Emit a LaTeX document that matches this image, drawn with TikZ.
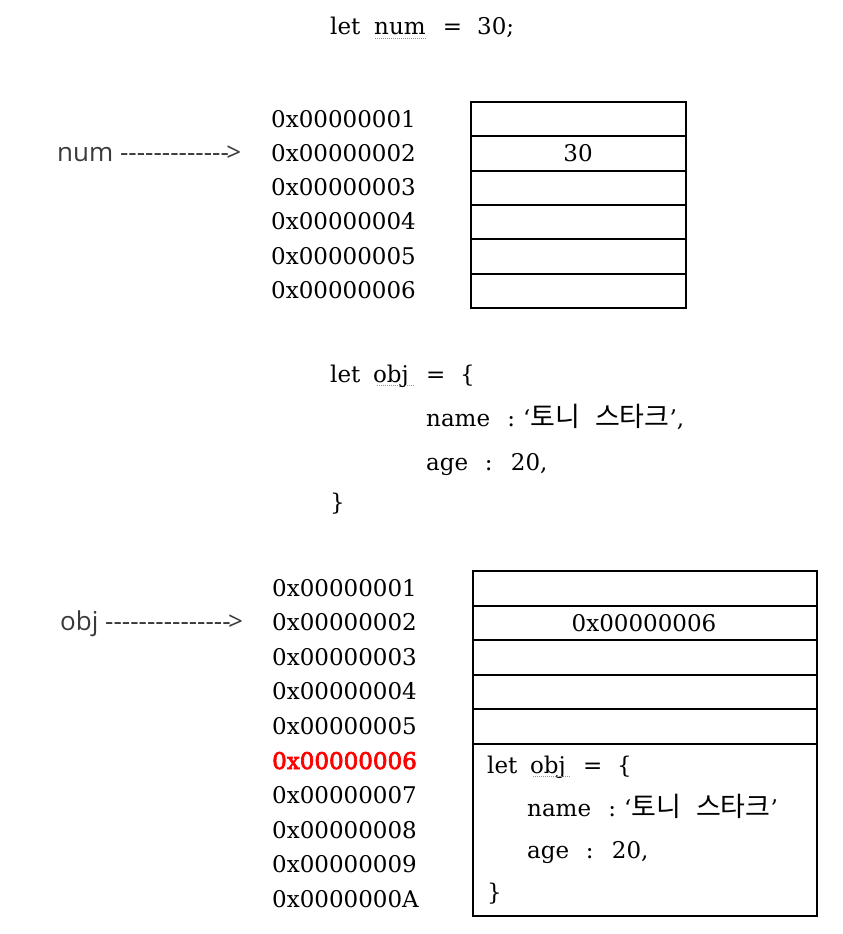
\documentclass[tikz,border=0pt]{standalone}
\usepackage{fontspec}
\setmainfont{DejaVu Serif}
\newfontfamily\kr{Noto Sans CJK KR}
\newfontfamily\lab{Open Sans}
\newfontfamily\redbold[FakeBold=3]{DejaVu Serif}
\definecolor{labgray}{HTML}{3A3A3A}
\definecolor{addrred}{HTML}{FF0000}
\definecolor{squig}{HTML}{F08010}
\begin{document}
\begin{tikzpicture}[x=1pt,y=-1pt,
  txt/.style={anchor=base west, inner sep=0pt, font=\fontsize{23}{28}\selectfont},
  ctxt/.style={anchor=base, inner sep=0pt, font=\fontsize{23}{28}\selectfont},
  lbl/.style={anchor=base west, inner sep=0pt, font=\lab\fontsize{26}{30}\selectfont, text=labgray},
  cellA/.style={draw, line width=1.9pt, minimum width=215pt, minimum height=34.33pt, inner sep=0pt, anchor=north west},
  cellB/.style={draw, line width=1.9pt, minimum width=344pt, minimum height=34.6pt, inner sep=0pt, anchor=north west},
  squiggle/.style={draw=squig, line width=1.2pt, dash pattern=on 1pt off 1pt}
]
\useasboundingbox (0,0) rectangle (843,934);
\newcommand{\K}[1]{{\kr\fontsize{27}{30}\selectfont #1}}

% top code
\node[txt] (c1) at (330,35) {let\hspace{0.6em}num\hspace{0.75em}=\hspace{0.65em}30;};
\draw[squiggle] (375,38.5) -- (427,38.5);

% top memory table
\foreach \i in {0,...,5} {
  \node[cellA] (ta\i) at (470,{101+34.33*\i}) {};
}
\node[ctxt] (v30) at (578,161) {30};
\foreach \i/\t in {0/1,1/2,2/3,3/4,4/5,5/6} {
  \node[txt] (aa\i) at (271,{127+34.33*\i}) {0x0000000\t};
}
\node[lbl] (num) at (57,161) {num -------------\hspace{-0.1em}>};

% middle code
\node[txt] (m1) at (330,382) {let\hspace{0.55em}obj\hspace{0.75em}=\hspace{0.65em}\{};
\draw[squiggle] (377,385.5) -- (414,385.5);
\node[txt] (m2) at (426,426) {name\hspace{0.75em}:\hspace{0.35em}‘\K{토니\hspace{0.55em}스타크}’,};
\node[txt] (m3) at (426,470) {age\hspace{0.72em}:\hspace{0.8em}20,};
\node[txt] (m4) at (330,510) {\}};

% bottom memory table
\foreach \i in {0,...,4} {
  \node[cellB] (tb\i) at (472,{570+34.6*\i}) {};
}
\node[draw, line width=1.9pt, minimum width=344pt, minimum height=172pt, inner sep=0pt, anchor=north west] (big) at (472,743) {};
\node[ctxt] (v6) at (644,631) {0x00000006};
\foreach \i/\t in {0/1,1/2,2/3,3/4,4/5,6/7,7/8,8/9,9/A} {
  \node[txt] (ab\i) at (272,{596+34.6*\i}) {0x0000000\t};
}
\node[txt, text=addrred, font=\redbold\fontsize{23}{28}\selectfont] (ab5) at (272,{596+34.6*5}) {0x00000006};
\node[lbl] (obj) at (60,630) {obj ---------------\hspace{-0.1em}>};

% code inside box
\node[txt] (b1) at (487,773) {let\hspace{0.55em}obj\hspace{0.75em}=\hspace{0.65em}\{};
\draw[squiggle] (533,776.5) -- (570,776.5);
\node[txt] (b2) at (527,816) {name\hspace{0.75em}:\hspace{0.35em}‘\K{토니\hspace{0.55em}스타크}’};
\node[txt] (b3) at (527,858) {age\hspace{0.72em}:\hspace{0.8em}20,};
\node[txt] (b4) at (487,900) {\}};
\end{tikzpicture}
\end{document}
